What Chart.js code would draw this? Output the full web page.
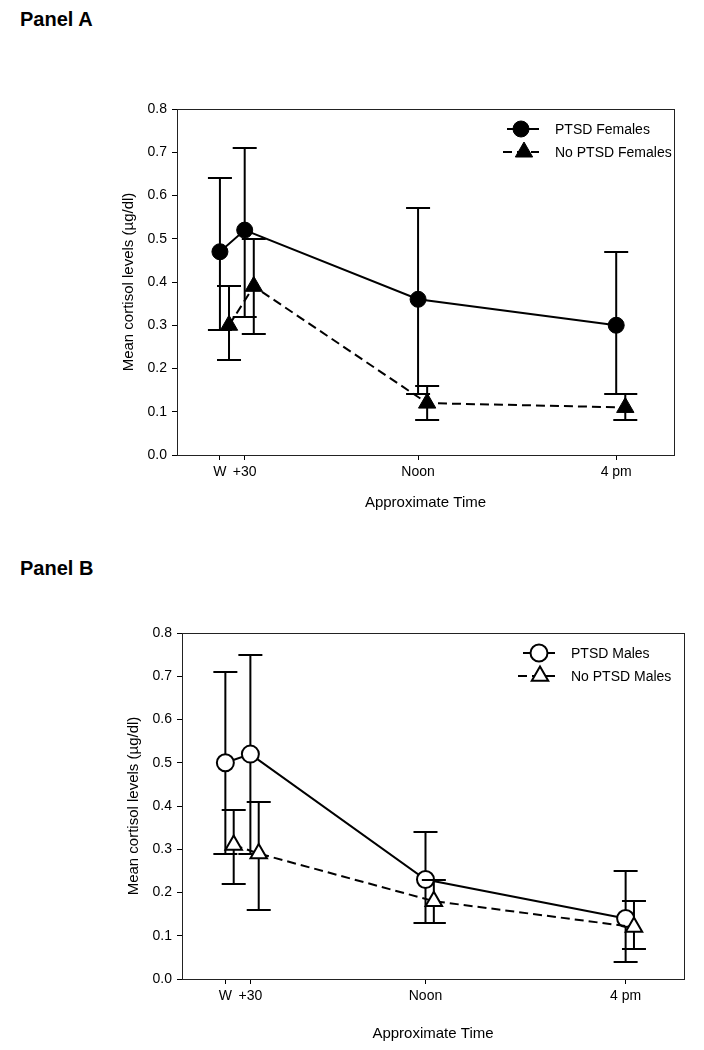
<!DOCTYPE html>
<html>
<head>
<meta charset="utf-8">
<script src="https://cdn.jsdelivr.net/npm/chart.js@4.4.1/dist/chart.umd.min.js"></script>
<style>
  html, body { margin: 0; padding: 0; background: #fff; }
  body { width: 704px; height: 1050px; position: relative; overflow: hidden;
         font-family: "Liberation Sans", Arial, sans-serif; }
  .panel-title { position: absolute; left: 20px; font-weight: bold; font-size: 20px;
                 line-height: 20px; color: #000; }
  canvas { position: absolute; left: 0; }
</style>
</head>
<body>
<div class="panel-title" style="top:9px">Panel A</div>
<canvas id="chartA" width="704" height="490" style="top:40px"></canvas>
<div class="panel-title" style="top:558px">Panel B</div>
<canvas id="chartB" width="704" height="460" style="top:590px"></canvas>

<script>
// --- Data ---
const xMinutes = [0, 30, 240, 480];          // W, +30, Noon, 4 pm
const xLabels = ['W', '+30', 'Noon', '4 pm'];
const yTicks = [0, 0.1, 0.2, 0.3, 0.4, 0.5, 0.6, 0.7, 0.8];

// Panel A - females
const ptsdF     = [0.47, 0.52, 0.36, 0.30];
const ptsdFHigh = [0.64, 0.71, 0.57, 0.47];
const ptsdFLow  = [0.29, 0.32, 0.14, 0.14];
const noPtsdF     = [0.30, 0.39, 0.12, 0.11];
const noPtsdFHigh = [0.39, 0.50, 0.16, 0.14];
const noPtsdFLow  = [0.22, 0.28, 0.08, 0.08];

// Panel B - males
const ptsdM     = [0.50, 0.52, 0.23, 0.14];
const ptsdMHigh = [0.71, 0.75, 0.34, 0.25];
const ptsdMLow  = [0.29, 0.29, 0.13, 0.04];
const noPtsdM     = [0.31, 0.29, 0.18, 0.12];
const noPtsdMHigh = [0.39, 0.41, 0.23, 0.18];
const noPtsdMLow  = [0.22, 0.16, 0.13, 0.07];

const FONT = '"Liberation Sans", Arial, sans-serif';
const CAP_HALF = 12;

function points(values, shift) {
  return values.map((v, i) => ({ x: xMinutes[i] + shift, y: v }));
}

// error bars of each series, drawn just before that series (so under its own markers,
// but over the series drawn before it)
const errorBars = {
  id: 'errorBars',
  beforeDatasetDraw(chart, args) {
    const ctx = chart.ctx;
    const y = chart.scales.y;
    const ds = chart.data.datasets[args.index];
    ctx.save();
    ctx.strokeStyle = '#000';
    ctx.lineWidth = 2;
    args.meta.data.forEach((pt, j) => {
      const top = Math.round(y.getPixelForValue(ds.errHigh[j]));
      const bot = Math.round(y.getPixelForValue(ds.errLow[j]));
      ctx.beginPath();
      ctx.moveTo(pt.x, top); ctx.lineTo(pt.x, bot);
      ctx.moveTo(pt.x - CAP_HALF, top); ctx.lineTo(pt.x + CAP_HALF, top);
      ctx.moveTo(pt.x - CAP_HALF, bot); ctx.lineTo(pt.x + CAP_HALF, bot);
      ctx.stroke();
    });
    ctx.restore();
  }
};

// box around the plot + legend inside the top-right corner
const frameLegend = {
  id: 'frameLegend',
  afterDraw(chart, args, opts) {
    const ctx = chart.ctx;
    const a = chart.chartArea;
    ctx.save();
    ctx.strokeStyle = '#222';
    ctx.lineWidth = 1;
    ctx.strokeRect(Math.round(a.left) + 0.5, Math.round(a.top) + 0.5,
                   Math.round(a.right - a.left), Math.round(a.bottom - a.top));

    opts.rows.forEach((row, i) => {
      const ds = chart.data.datasets[i];
      const yy = a.top + row.dy;
      ctx.strokeStyle = '#000';
      ctx.lineWidth = 2;
      ctx.setLineDash(ds.borderDash || []);
      ctx.beginPath();
      ctx.moveTo(a.right - row.lineFrom, yy);
      ctx.lineTo(a.right - row.lineTo, yy);
      ctx.stroke();
      ctx.setLineDash([]);
      ctx.fillStyle = ds.pointBackgroundColor;
      ctx.strokeStyle = '#000';
      ctx.lineWidth = ds.pointBorderWidth;
      Chart.helpers.drawPoint(ctx, {
        pointStyle: ds.pointStyle, radius: ds.pointRadius,
        rotation: 0, borderWidth: ds.pointBorderWidth
      }, a.right - row.marker, yy);
      ctx.fillStyle = '#000';
      ctx.font = '14px ' + FONT;
      ctx.textBaseline = 'middle';
      ctx.textAlign = 'left';
      ctx.fillText(ds.label, a.right - row.text, yy + 1);
    });
    ctx.restore();
  }
};

function makePanel(id, cfg) {
  const ctx = document.getElementById(id).getContext('2d');
  new Chart(ctx, {
    type: 'line',
    data: {
      datasets: [{
        label: cfg.labels[0],
        data: points(cfg.a, 0),
        errHigh: cfg.aHigh, errLow: cfg.aLow,
        order: 1,   // drawn first
        borderColor: '#000', borderWidth: 2,
        pointStyle: 'circle', pointRadius: cfg.circleR, pointHoverRadius: cfg.circleR,
        pointBackgroundColor: cfg.fill, pointBorderColor: '#000', pointBorderWidth: cfg.pbw,
        tension: 0
      }, {
        label: cfg.labels[1],
        data: points(cfg.b, cfg.shift),
        errHigh: cfg.bHigh, errLow: cfg.bLow,
        order: 0,   // drawn on top
        borderColor: '#000', borderWidth: 2, borderDash: [9, 5],
        pointStyle: 'triangle', pointRadius: cfg.triR, pointHoverRadius: cfg.triR,
        pointBackgroundColor: cfg.fill, pointBorderColor: '#000', pointBorderWidth: cfg.pbw,
        tension: 0
      }]
    },
    options: {
      responsive: false,
      animation: false,
      events: [],
      layout: { padding: cfg.padding },
      plugins: {
        legend: { display: false },
        tooltip: { enabled: false },
        frameLegend: { rows: cfg.legendRows }
      },
      scales: {
        x: {
          type: 'linear', min: -52, max: 550,
          afterBuildTicks: s => { s.ticks = xMinutes.map(v => ({ value: v })); },
          afterFit: s => { s.height = cfg.xHeight; },
          border: { display: false },
          grid: { drawOnChartArea: false, drawTicks: true, tickLength: 5, color: '#000' },
          ticks: {
            autoSkip: false, maxRotation: 0, padding: 4, color: '#000',
            font: { size: 14, family: FONT },
            callback: v => xLabels[xMinutes.indexOf(v)]
          },
          title: { display: true, text: 'Approximate Time', color: '#000', padding: 0,
                   font: { size: 15, family: FONT } }
        },
        y: {
          min: 0, max: 0.8,
          afterBuildTicks: s => { s.ticks = yTicks.map(v => ({ value: v })); },
          afterFit: s => { s.width = cfg.yWidth; },
          border: { display: false },
          grid: { drawOnChartArea: false, drawTicks: true, tickLength: 5, color: '#000' },
          ticks: {
            padding: 5, color: '#000',
            font: { size: 14, family: FONT },
            callback: v => v.toFixed(1)
          },
          title: { display: true, text: 'Mean cortisol levels (\u00b5g/dl)', color: '#000', padding: 0,
                   font: { size: 15, family: FONT } }
        }
      }
    },
    plugins: [errorBars, frameLegend]
  });
}

makePanel('chartA', {
  labels: ['PTSD Females', 'No PTSD Females'],
  a: ptsdF, aHigh: ptsdFHigh, aLow: ptsdFLow,
  b: noPtsdF, bHigh: noPtsdFHigh, bLow: noPtsdFLow,
  fill: '#000', pbw: 1, circleR: 8, triR: 10, shift: 11,
  padding: { left: 120, right: 30, top: 69, bottom: 18 },
  xHeight: 57, yWidth: 57,
  legendRows: [
    { dy: 20, lineFrom: 167, lineTo: 135, marker: 153, text: 119 },
    { dy: 43, lineFrom: 171, lineTo: 135, marker: 150, text: 119 }
  ]
});

makePanel('chartB', {
  labels: ['PTSD Males', 'No PTSD Males'],
  a: ptsdM, aHigh: ptsdMHigh, aLow: ptsdMLow,
  b: noPtsdM, bHigh: noPtsdMHigh, bLow: noPtsdMLow,
  fill: '#fff', pbw: 2, circleR: 8.5, triR: 9.5, shift: 10,
  padding: { left: 125, right: 20, top: 43, bottom: 7 },
  xHeight: 64, yWidth: 57,
  legendRows: [
    { dy: 20, lineFrom: 161, lineTo: 129, marker: 145, text: 113 },
    { dy: 43, lineFrom: 166, lineTo: 129, marker: 144, text: 113 }
  ]
});
</script>
</body>
</html>
